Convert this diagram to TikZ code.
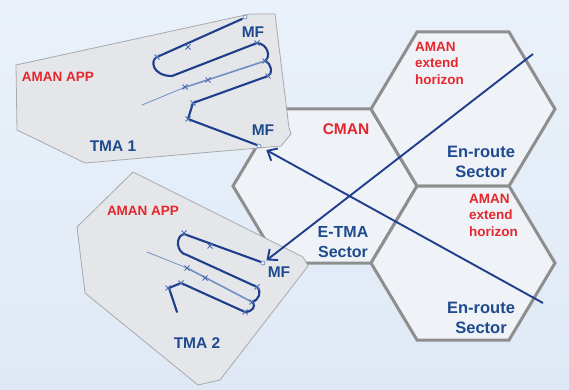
\documentclass[tikz,border=0pt]{standalone}
\usepackage{fontspec}
\setmainfont{Liberation Sans}
\usetikzlibrary{arrows.meta}
\definecolor{bgtop}{HTML}{EAF1FA}
\definecolor{bgbot}{HTML}{DFE9F5}
\definecolor{hexfill}{HTML}{EFF3F7}
\definecolor{hexline}{HTML}{8E8E8E}
\definecolor{tmafill}{HTML}{E4E6E9}
\definecolor{tmaline}{HTML}{A6AAAE}
\definecolor{routeblue}{HTML}{1F3F8C}
\definecolor{lightblue}{HTML}{7090C4}
\definecolor{markblue}{HTML}{4A6DB0}
\definecolor{txtblue}{HTML}{1F4A8E}
\definecolor{txtred}{HTML}{E5262D}
\begin{document}
\begin{tikzpicture}[x=1pt,y=-1pt,
  hexcell/.style={fill=hexfill, draw=hexline, line width=3pt, line join=miter},
  tma/.style={fill=tmafill, draw=tmaline, line width=0.8pt},
  route/.style={draw=routeblue, line width=2.1pt, line cap=round, line join=round},
  lightroute/.style={draw=lightblue, line width=1.6pt, line cap=round},
  thinroute/.style={draw=lightblue, line width=0.8pt, line cap=round},
  wp/.style={draw=markblue, line width=0.8pt},
  mfdot/.style={circle, draw=lightblue, fill=hexfill, line width=0.7pt, minimum size=4pt, inner sep=0pt},
  flow/.style={draw=routeblue, line width=1.9pt, -{Straight Barb[length=8pt,width=14pt]}},
  bluetxt/.style={text=txtblue, font=\bfseries\fontsize{15.5}{20}\selectfont, inner sep=0pt, align=center},
  redtxt/.style={text=txtred, font=\bfseries\fontsize{13.5}{16.5}\selectfont, inner sep=0pt, align=left}]
\useasboundingbox (0,0) rectangle (569,390);
\shade[top color=bgtop, bottom color=bgbot] (0,0) rectangle (569,390);

% hexagonal sectors
\draw[hexcell] (233,186) -- (279,109) -- (371,109) -- (417,186) -- (371,263) -- (279,263) -- cycle;
\draw[hexcell] (371,109) -- (417,32) -- (509,32) -- (555,109) -- (509,186) -- (417,186) -- cycle;
\draw[hexcell] (371,263) -- (417,186) -- (509,186) -- (555,263) -- (509,340) -- (417,340) -- cycle;

% TMA areas
\draw[tma] (16,65) -- (250,14) -- (275,14) -- (289,128) -- (291,134) -- (281,146) -- (85,163) -- (17,130) -- cycle;
\draw[tma] (133,172) -- (303,257) -- (308,266) -- (220,380) -- (198,385) -- (85,293) -- (77,227) -- cycle;

% TMA 1 routes
\draw[thinroute] (183,88) -- (142,105);
\draw[lightroute] (265,61) -- (183,88);
\draw[route] (242,19) -- (157,57) .. controls (150,60) and (152,76) .. (172,76)
  -- (257,43) .. controls (268,44) and (271,57) .. (265,61)
  .. controls (272,64) and (273,74) .. (268,76)
  -- (193,103) -- (188,119) -- (257,145);
\foreach \p in {(157,57),(188,47),(257,43),(265,61),(268,76),(193,103),(188,119),(208,80),(185,87)}
  \draw[wp] \p +(-2.5,-2.5) -- +(2.5,2.5) +(-2.5,2.5) -- +(2.5,-2.5);

% TMA 2 routes
\draw[thinroute] (187,268) -- (147,252);
\draw[lightroute] (252,302) -- (187,268);
\draw[route] (261,262) -- (184,234) .. controls (175,236) and (176,253) .. (187,255)
  -- (257,287) .. controls (262,292) and (259,300) .. (252,302)
  .. controls (257,306) and (252,312) .. (245,312)
  -- (181,283) -- (169,288) -- (177,312);
\foreach \p in {(184,233),(210,246),(187,268),(205,278),(257,287),(252,302),(245,312),(181,283),(168,288)}
  \draw[wp] \p +(-2.5,-2.5) -- +(2.5,2.5) +(-2.5,2.5) -- +(2.5,-2.5);

% metering fixes
\node[mfdot] (mf0) at (245,17) {};
\node[mfdot] (mf1) at (259,146) {};
\node[mfdot] (mf2) at (263,263) {};

% labels
\node[bluetxt] (lmf0) at (253,32) {MF};
\node[bluetxt] (lmf1) at (263,130) {MF};
\node[bluetxt] (lmf2) at (279,272) {MF};
\node[bluetxt] (tma1) at (113,146) {TMA 1};
\node[bluetxt] (tma2) at (197,343) {TMA 2};
\node[redtxt] (app1) at (58,77) {AMAN APP};
\node[redtxt] (app2) at (143,211) {AMAN APP};
\node[bluetxt, text=txtred] (cman) at (346,129) {CMAN};
\node[redtxt, anchor=west] (ext1) at (415,63) {AMAN\\extend\\horizon};
\node[redtxt, anchor=west] (ext2) at (469,215) {AMAN\\extend\\horizon};
\node[bluetxt, font=\bfseries\fontsize{16.5}{20}\selectfont] (er1) at (481,162) {En-route\\Sector};
\node[bluetxt, font=\bfseries\fontsize{16.5}{20}\selectfont] (er2) at (481,318) {En-route\\Sector};
\node[bluetxt, font=\bfseries\fontsize{16}{20}\selectfont] (etma) at (343,242) {E-TMA\\Sector};

% traffic flows
\coordinate (src1) at (533,54);
\coordinate (src2) at (543,303);
\draw[flow, shorten >=2pt] (src1) -- (mf2);
\draw[flow, shorten >=6pt] (src2) -- (mf1);
\end{tikzpicture}
\end{document}
